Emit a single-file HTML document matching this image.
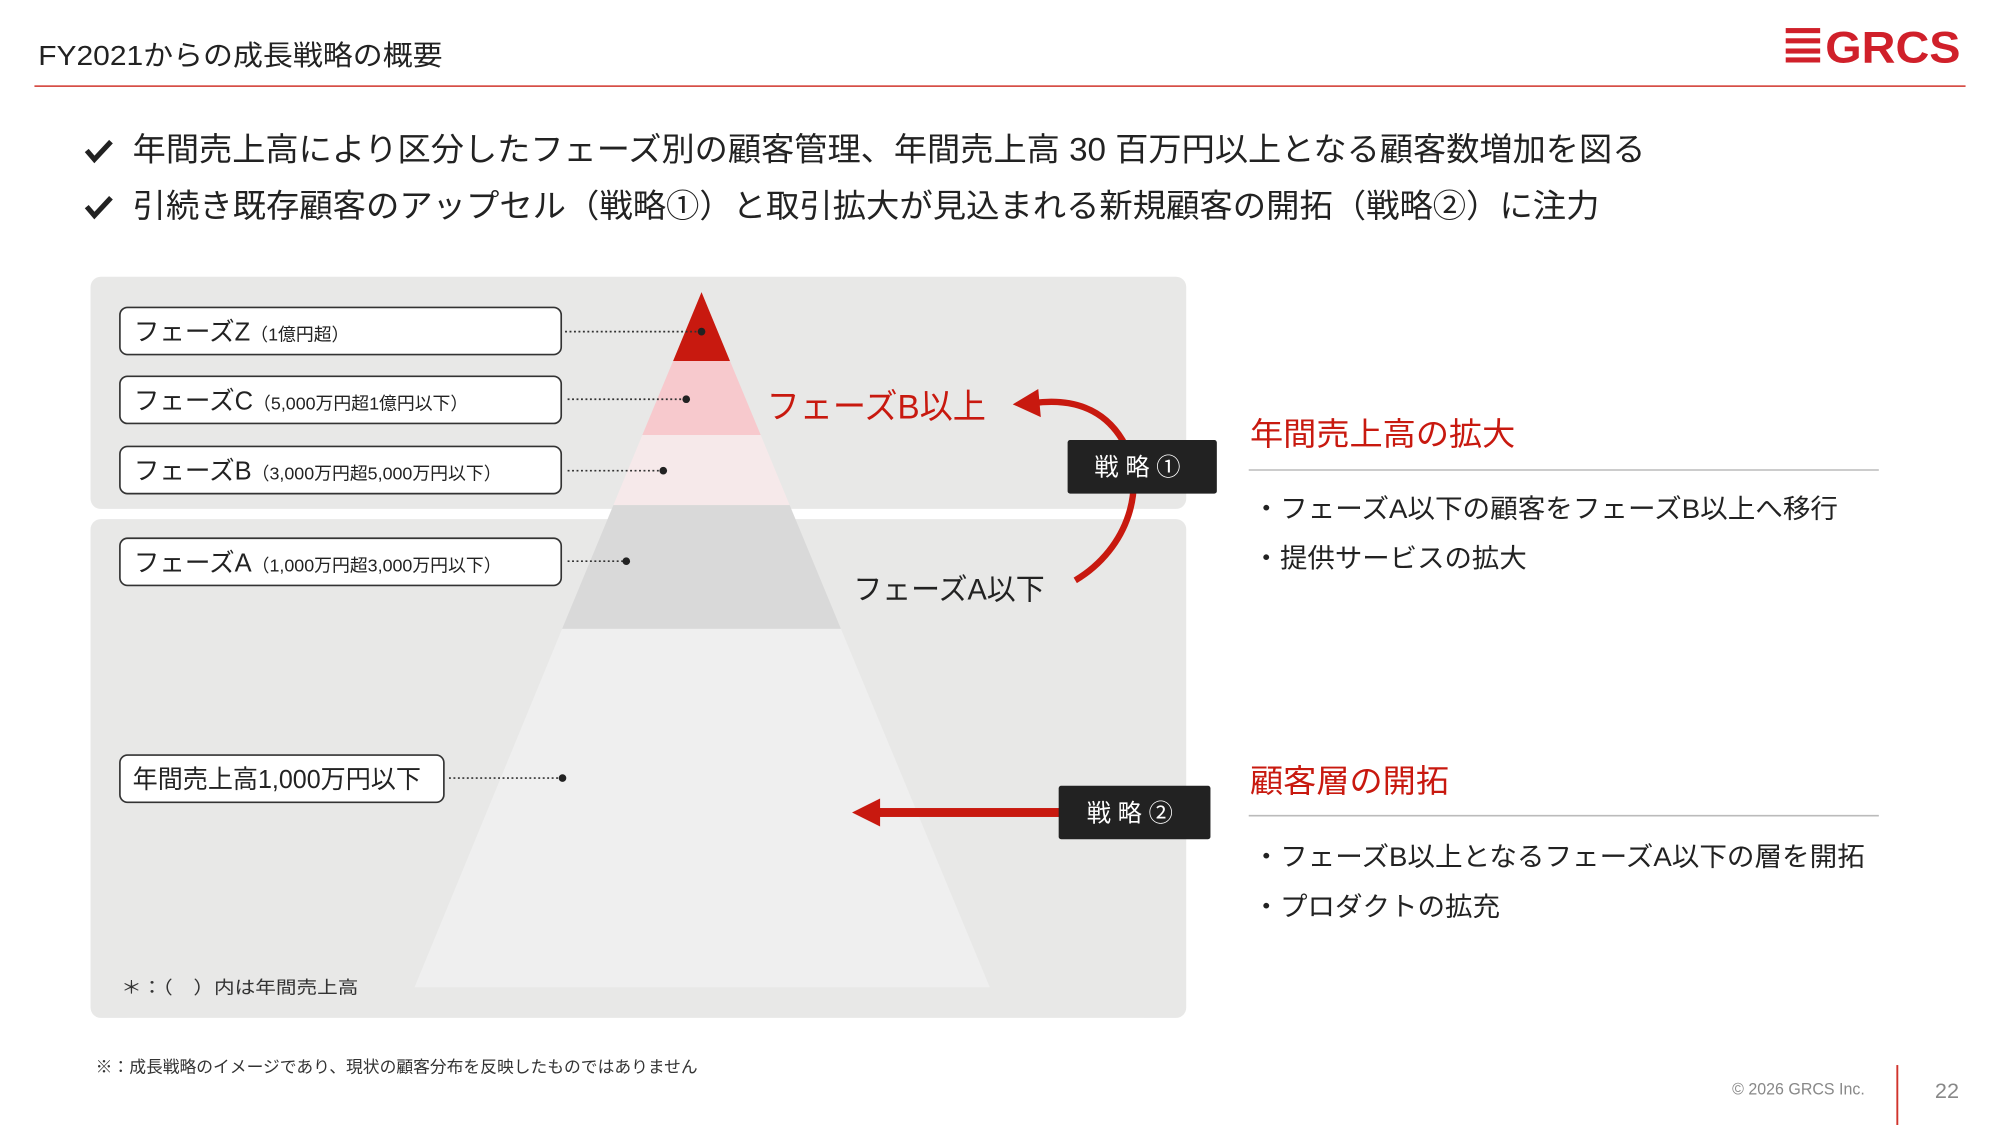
<!DOCTYPE html>
<html><head><meta charset="utf-8"><style>
html,body{margin:0;padding:0;background:#fff;}
svg{display:block;}
text{font-family:"Liberation Sans","Noto Sans CJK JP",sans-serif;}
</style></head><body>
<svg width="2000" height="1125" viewBox="0 0 1568 882" xmlns="http://www.w3.org/2000/svg">
<rect width="1568" height="882" fill="#fff"/>
<text x="30" y="51" font-size="22" fill="#222" textLength="317" lengthAdjust="spacingAndGlyphs">FY2021からの成長戦略の概要</text>
<line x1="27" y1="67.5" x2="1541" y2="67.5" stroke="#d0342c" stroke-width="1.2"/>
<g fill="#d0202a">
<rect x="1400" y="22" width="27" height="4"/><rect x="1400" y="30" width="27" height="4"/><rect x="1400" y="38" width="27" height="4"/><rect x="1400" y="45" width="27" height="4"/>
<text x="1431" y="49" font-size="35" font-weight="bold" font-family="Liberation Sans,sans-serif" textLength="106" lengthAdjust="spacingAndGlyphs">GRCS</text>
</g>
<g fill="#222">
<path d="M68 118 l6 7 l13 -14" stroke="#222" stroke-width="4" fill="none"/>
<text x="104" y="126" font-size="25.5" textLength="1186" lengthAdjust="spacingAndGlyphs">年間売上高により区分したフェーズ別の顧客管理、年間売上高 30 百万円以上となる顧客数増加を図る</text>
<path d="M68 162 l6 7 l13 -14" stroke="#222" stroke-width="4" fill="none"/>
<text x="104" y="170" font-size="25.5" textLength="1150" lengthAdjust="spacingAndGlyphs">引続き既存顧客のアップセル（戦略①）と取引拡大が見込まれる新規顧客の開拓（戦略②）に注力</text>
</g>
<rect x="71" y="217" width="859" height="182" rx="8" fill="#e8e8e7"/>
<rect x="71" y="407" width="859" height="391" rx="8" fill="#e8e8e7"/>
<polygon points="550,229 572.3,283 527.7,283" fill="#c8190f"/>
<polygon points="527.7,283 572.3,283 596.4,341 503.6,341" fill="#f7c9cd"/>
<polygon points="503.6,341 596.4,341 619.1,396 480.9,396" fill="#f6e9ea"/>
<polygon points="480.9,396 619.1,396 659.3,493 440.7,493" fill="#d9d9d9"/>
<polygon points="440.7,493 659.3,493 776,774 325,774" fill="#efefef"/>
<g stroke="#333" stroke-width="1.3" fill="#fff">
<rect x="94" y="241" width="346" height="37" rx="6"/>
<rect x="94" y="295" width="346" height="37" rx="6"/>
<rect x="94" y="350" width="346" height="37" rx="6"/>
<rect x="94" y="422" width="346" height="37" rx="6"/>
<rect x="94" y="592" width="254" height="37" rx="6"/>
</g>
<g fill="#222">
<text x="105" y="267" font-size="20">フェーズZ<tspan font-size="14">（1億円超）</tspan></text>
<text x="105" y="321" font-size="20">フェーズC<tspan font-size="14">（5,000万円超1億円以下）</tspan></text>
<text x="105" y="376" font-size="20">フェーズB<tspan font-size="14">（3,000万円超5,000万円以下）</tspan></text>
<text x="105" y="448" font-size="20">フェーズA<tspan font-size="14">（1,000万円超3,000万円以下）</tspan></text>
<text x="104" y="618" font-size="20" textLength="226" lengthAdjust="spacingAndGlyphs">年間売上高1,000万円以下</text>
</g>
<g stroke="#333" stroke-width="1.3" stroke-dasharray="1.5 2" fill="none">
<line x1="443" y1="260" x2="550" y2="260"/>
<line x1="445" y1="313" x2="538" y2="313"/>
<line x1="445" y1="369" x2="520" y2="369"/>
<line x1="445" y1="440" x2="491" y2="440"/>
<line x1="352" y1="610" x2="441" y2="610"/>
</g>
<g fill="#222"><circle cx="550" cy="260" r="3"/><circle cx="538" cy="313" r="3"/><circle cx="520" cy="369" r="3"/><circle cx="491" cy="440" r="3"/><circle cx="441" cy="610" r="3"/></g>
<text x="601" y="328" font-size="27" fill="#c8190f" textLength="172" lengthAdjust="spacingAndGlyphs">フェーズB以上</text>
<text x="669" y="470" font-size="23" fill="#222" textLength="150" lengthAdjust="spacingAndGlyphs">フェーズA以下</text>
<path d="M843 455 C 885 430, 900 380, 880 345 C 865 320, 840 312, 810 316" stroke="#c8190f" stroke-width="5" fill="none"/>
<polygon points="794,317 814,305 816,327" fill="#c8190f"/>
<rect x="837" y="345" width="117" height="42" rx="2" fill="#222"/>
<text x="858" y="373" font-size="19" fill="#fff">戦 略 ①</text>
<rect x="688" y="633.5" width="145" height="7" fill="#c8190f"/>
<polygon points="668,637 690,626 690,648" fill="#c8190f"/>
<rect x="830" y="616" width="119" height="42" rx="2" fill="#222"/>
<text x="852" y="644" font-size="19" fill="#fff">戦 略 ②</text>
<text x="980" y="349" font-size="25" fill="#c8190f" textLength="208" lengthAdjust="spacingAndGlyphs">年間売上高の拡大</text>
<line x1="979" y1="368.5" x2="1473" y2="368.5" stroke="#bbb" stroke-width="1.2"/>
<text x="982" y="406" font-size="21" fill="#222" textLength="459" lengthAdjust="spacingAndGlyphs">・フェーズA以下の顧客をフェーズB以上へ移行</text>
<text x="982" y="445" font-size="21" fill="#222" textLength="215" lengthAdjust="spacingAndGlyphs">・提供サービスの拡大</text>
<text x="980" y="621" font-size="25" fill="#c8190f" textLength="156" lengthAdjust="spacingAndGlyphs">顧客層の開拓</text>
<line x1="979" y1="639.5" x2="1473" y2="639.5" stroke="#bbb" stroke-width="1.2"/>
<text x="982" y="679" font-size="21" fill="#222" textLength="480" lengthAdjust="spacingAndGlyphs">・フェーズB以上となるフェーズA以下の層を開拓</text>
<text x="982" y="718" font-size="21" fill="#222" textLength="194" lengthAdjust="spacingAndGlyphs">・プロダクトの拡充</text>
<text x="95" y="779" font-size="14" fill="#333" textLength="186" lengthAdjust="spacingAndGlyphs">＊：（　）内は年間売上高</text>
<text x="75" y="841" font-size="13" fill="#333" textLength="472" lengthAdjust="spacingAndGlyphs">※：成長戦略のイメージであり、現状の顧客分布を反映したものではありません</text>
<text x="1358" y="858" font-size="13" fill="#888" textLength="104" lengthAdjust="spacingAndGlyphs">© 2026 GRCS Inc.</text>
<line x1="1487.5" y1="835" x2="1487.5" y2="882" stroke="#d0342c" stroke-width="1.5"/>
<text x="1517" y="861" font-size="17" fill="#888">22</text>
</svg>
</body></html>
